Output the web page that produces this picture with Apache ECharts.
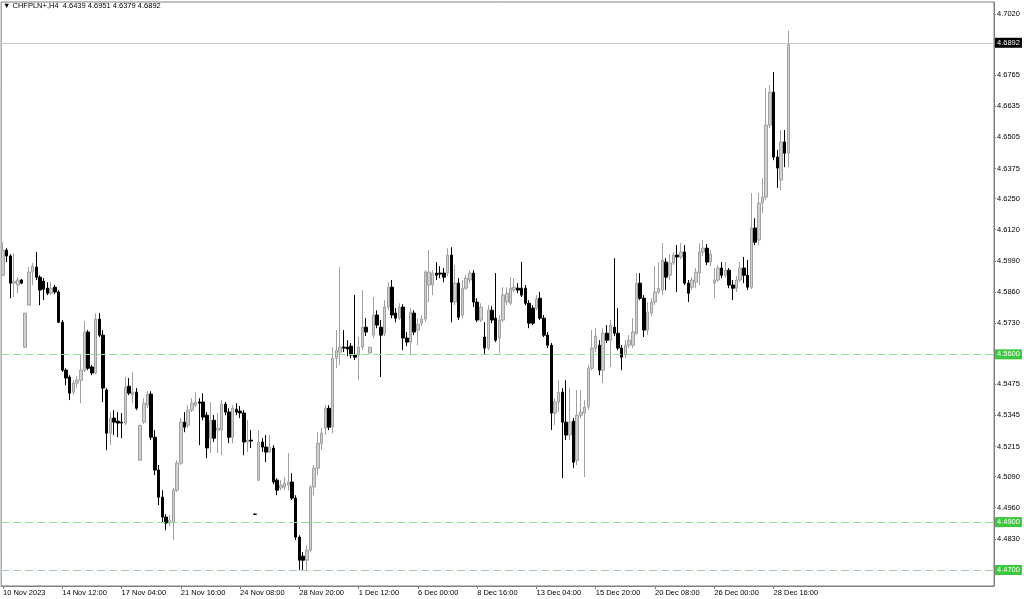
<!DOCTYPE html>
<html><head><meta charset="utf-8">
<script src="https://cdn.jsdelivr.net/npm/echarts@6/dist/echarts.min.js"></script>
<style>html,body{margin:0;padding:0;background:#fff}#c{width:1024px;height:599px}</style>
</head><body><div id="c"></div>
<script>
const symbol = 'CHFPLN+,H4';
const tickLabels = ['10 Nov 2023','14 Nov 12:00','17 Nov 04:00','21 Nov 16:00','24 Nov 08:00','28 Nov 20:00','1 Dec 12:00','6 Dec 00:00','8 Dec 16:00','13 Dec 04:00','15 Dec 20:00','20 Dec 08:00','26 Dec 00:00','28 Dec 16:00'];
const yTickValues = [4.7020,4.6765,4.6635,4.6505,4.6375,4.6250,4.6120,4.5990,4.5860,4.5730,4.5475,4.5345,4.5215,4.5090,4.4960,4.4830];
const currentPrice = 4.6892;
const levelLines = [4.5600, 4.4900, 4.4700];
const closedDays = ['2023-12-24','2023-12-25'];

const opens = [
4.5930,4.6035,4.6010,4.5897,4.5889,4.5910,4.5630,4.5805,4.5943,4.5964,
4.5922,4.5905,4.5876,4.5855,4.5880,4.5860,4.5734,4.5534,4.5505,4.5442,
4.5480,4.5492,4.5534,4.5693,4.5547,4.5522,4.5747,4.5680,4.5451,4.5271,
4.5334,4.5321,4.5317,4.5313,4.5467,4.5430,4.5442,4.5158,4.5317,4.5388,
4.5434,4.5254,4.5117,4.5004,4.4921,4.4896,4.4900,4.5033,4.5146,4.5317,
4.5304,4.5367,4.5388,4.5401,4.5401,4.5346,4.5250,4.5325,4.5284,4.5284,
4.5392,4.5359,4.5254,4.5371,4.5363,4.5355,4.5234,4.5242,4.4933,4.5075,
4.5234,4.5213,4.5192,4.5209,4.5075,4.5042,4.5046,4.5054,4.5067,4.5000,
4.4837,4.4758,4.4741,4.4783,4.5046,4.5125,4.5229,4.5292,4.5375,4.5296,
4.5584,4.5609,4.5630,4.5630,4.5634,4.5597,4.5597,4.5630,4.5713,4.5605,
4.5680,4.5764,4.5713,4.5688,4.5797,4.5880,4.5772,4.5751,4.5797,4.5668,
4.5651,4.5772,4.5701,4.5730,4.5747,4.5889,4.5889,4.5939,4.5939,4.5939,
4.5939,4.6014,4.5818,4.5897,4.5764,4.5876,4.5910,4.5939,4.5818,4.5743,
4.5672,4.5626,4.5784,4.5751,4.5668,4.5743,4.5818,4.5813,4.5868,4.5876,
4.5876,4.5876,4.5813,4.5793,4.5793,4.5834,4.5751,4.5680,4.5638,4.5355,
4.5401,4.5442,4.5317,4.5263,4.5321,4.5158,4.5346,4.5355,4.5380,4.5542,
4.5626,4.5638,4.5534,4.5688,4.5659,4.5713,4.5688,4.5626,4.5597,4.5638,
4.5638,4.5688,4.5897,4.5834,4.5701,4.5772,4.5818,4.5860,4.5868,4.5985,
4.5930,4.5981,4.6014,4.6006,4.6027,4.5897,4.5880,4.5901,4.5939,4.6027,
4.6043,4.5985,4.5897,4.5910,4.5960,4.5930,4.5951,4.5889,4.5876,4.5910,
4.5960,4.5930,4.5880,4.6127,4.6077,4.6231,4.6256,4.6556,4.6694,4.6423,
4.6327,4.6486,4.6439];

const closes = [
4.6035,4.6010,4.5897,4.5905,4.5910,4.5897,4.5772,4.5943,4.5968,4.5922,
4.5868,4.5872,4.5855,4.5876,4.5860,4.5734,4.5534,4.5501,4.5438,4.5480,
4.5492,4.5534,4.5693,4.5542,4.5522,4.5747,4.5680,4.5459,4.5271,4.5334,
4.5317,4.5313,4.5313,4.5463,4.5438,4.5442,4.5375,4.5304,4.5396,4.5434,
4.5254,4.5117,4.5004,4.4921,4.4896,4.4908,4.5033,4.5146,4.5317,4.5296,
4.5367,4.5396,4.5401,4.5396,4.5338,4.5209,4.5325,4.5250,4.5292,4.5392,
4.5359,4.5254,4.5375,4.5359,4.5355,4.5234,4.5242,4.5238,4.4932,4.5234,
4.5213,4.5192,4.5213,4.5067,4.5033,4.5054,4.5062,4.5067,4.5000,4.4837,
4.4741,4.4741,4.4783,4.5046,4.5125,4.5229,4.5271,4.5375,4.5296,4.5584,
4.5617,4.5630,4.5626,4.5622,4.5597,4.5588,4.5630,4.5713,4.5693,4.5630,
4.5764,4.5722,4.5680,4.5797,4.5880,4.5764,4.5751,4.5797,4.5668,4.5651,
4.5776,4.5693,4.5726,4.5747,4.5943,4.5943,4.5939,4.5930,4.5935,4.5922,
4.6014,4.5818,4.5897,4.5755,4.5876,4.5918,4.5939,4.5818,4.5743,4.5797,
4.5626,4.5784,4.5743,4.5659,4.5743,4.5847,4.5855,4.5876,4.5880,4.5868,
4.5847,4.5813,4.5730,4.5730,4.5830,4.5751,4.5680,4.5638,4.5355,4.5401,
4.5442,4.5317,4.5263,4.5317,4.5150,4.5346,4.5359,4.5380,4.5542,4.5626,
4.5676,4.5534,4.5688,4.5659,4.5722,4.5688,4.5626,4.5588,4.5638,4.5659,
4.5693,4.5897,4.5834,4.5701,4.5776,4.5818,4.5860,4.5876,4.5993,4.5922,
4.5981,4.6014,4.6006,4.6027,4.5897,4.5855,4.5910,4.5943,4.6027,4.6043,
4.5985,4.6018,4.5910,4.5960,4.5930,4.5951,4.5889,4.5876,4.5910,4.5960,
4.5930,4.5880,4.6127,4.6068,4.6231,4.6256,4.6556,4.6694,4.6423,4.6377,
4.6486,4.6439,4.6892];

const highs = [
4.6068,4.6043,4.6018,4.6022,4.5922,4.5914,4.5772,4.5964,4.5981,4.6027,
4.5930,4.5918,4.5901,4.5901,4.5889,4.5868,4.5743,4.5542,4.5513,4.5492,
4.5509,4.5597,4.5738,4.5701,4.5555,4.5772,4.5772,4.5701,4.5459,4.5359,
4.5367,4.5359,4.5355,4.5505,4.5501,4.5526,4.5459,4.5304,4.5417,4.5446,
4.5446,4.5284,4.5138,4.5033,4.4933,4.4929,4.5042,4.5158,4.5334,4.5359,
4.5388,4.5417,4.5442,4.5417,4.5438,4.5359,4.5401,4.5346,4.5355,4.5409,
4.5401,4.5375,4.5388,4.5396,4.5384,4.5367,4.5325,4.5284,4.4937,4.5284,
4.5250,4.5263,4.5263,4.5221,4.5083,4.5075,4.5088,4.5188,4.5104,4.5012,
4.4845,4.4775,4.4804,4.5054,4.5138,4.5275,4.5292,4.5388,4.5388,4.5630,
4.5701,4.5964,4.5701,4.5659,4.5647,4.5847,4.5672,4.5868,4.5751,4.5630,
4.5839,4.5784,4.5743,4.5826,4.5901,4.5910,4.5793,4.5813,4.5809,4.5693,
4.5793,4.5784,4.5751,4.5764,4.5951,4.6035,4.5951,4.5985,4.5968,4.5960,
4.6043,4.6047,4.5972,4.5918,4.5910,4.5930,4.5951,4.5951,4.5834,4.5813,
4.5734,4.5805,4.5801,4.5939,4.5764,4.5880,4.5880,4.5922,4.5918,4.5897,
4.5985,4.5889,4.5826,4.5805,4.5847,4.5860,4.5764,4.5693,4.5647,4.5417,
4.5492,4.5459,4.5492,4.5459,4.5334,4.5451,4.5451,4.5409,4.5555,4.5701,
4.5709,4.5659,4.5709,4.5722,4.5743,4.6001,4.5793,4.5638,4.5659,4.5680,
4.5751,4.5939,4.5939,4.5847,4.5818,4.5834,4.5968,4.5985,4.6064,4.6001,
4.6018,4.6027,4.6056,4.6064,4.6056,4.5910,4.5922,4.5960,4.6064,4.6077,
4.6060,4.6035,4.5960,4.5972,4.5985,4.5985,4.5960,4.5910,4.5926,4.5985,
4.6006,4.5993,4.6273,4.6168,4.6273,4.6335,4.6711,4.6723,4.6778,4.6452,
4.6536,4.6536,4.6951];

const lows = [
4.5926,4.5985,4.5834,4.5839,4.5855,4.5893,4.5626,4.5805,4.5889,4.5910,
4.5805,4.5826,4.5847,4.5847,4.5851,4.5730,4.5526,4.5471,4.5409,4.5430,
4.5459,4.5396,4.5526,4.5534,4.5513,4.5517,4.5672,4.5401,4.5200,4.5221,
4.5263,4.5254,4.5250,4.5304,4.5430,4.5396,4.5367,4.5158,4.5309,4.5375,
4.5242,4.5096,4.4971,4.4900,4.4866,4.4883,4.4825,4.5025,4.5138,4.5275,
4.5292,4.5359,4.5380,4.5221,4.5325,4.5167,4.5188,4.5234,4.5188,4.5179,
4.5346,4.5229,4.5229,4.5346,4.5334,4.5179,4.5192,4.5209,4.4929,4.5071,
4.5192,4.5150,4.5188,4.5058,4.5012,4.5033,4.5033,4.5033,4.4992,4.4825,
4.4699,4.4699,4.4699,4.4775,4.5012,4.5096,4.5200,4.5263,4.5284,4.5271,
4.5542,4.5555,4.5609,4.5592,4.5584,4.5576,4.5492,4.5617,4.5676,4.5605,
4.5668,4.5709,4.5505,4.5676,4.5784,4.5751,4.5734,4.5743,4.5617,4.5634,
4.5597,4.5680,4.5638,4.5718,4.5734,4.5818,4.5847,4.5910,4.5918,4.5901,
4.5926,4.5734,4.5805,4.5743,4.5751,4.5868,4.5897,4.5797,4.5734,4.5734,
4.5597,4.5617,4.5730,4.5651,4.5605,4.5734,4.5805,4.5805,4.5860,4.5855,
4.5839,4.5805,4.5709,4.5722,4.5784,4.5743,4.5672,4.5626,4.5284,4.5304,
4.5359,4.5083,4.5242,4.5242,4.5125,4.5138,4.5334,4.5088,4.5367,4.5534,
4.5609,4.5513,4.5480,4.5647,4.5547,4.5676,4.5617,4.5534,4.5584,4.5626,
4.5626,4.5680,4.5826,4.5672,4.5680,4.5759,4.5805,4.5851,4.5847,4.5868,
4.5910,4.5972,4.5860,4.5997,4.5889,4.5818,4.5868,4.5876,4.5889,4.6010,
4.5972,4.5968,4.5834,4.5901,4.5918,4.5918,4.5876,4.5826,4.5860,4.5901,
4.5897,4.5868,4.5872,4.6056,4.6056,4.6189,4.6243,4.6544,4.6410,4.6294,
4.6285,4.6381,4.6379];

// H4 bar times (weekdays plus the Sunday 20:00 bar), plus empty future slots to the right edge
const monthNames = ['Jan','Feb','Mar','Apr','May','Jun','Jul','Aug','Sep','Oct','Nov','Dec'];
function buildCategories(count) {
  const out = [];
  let t = Date.UTC(2023, 10, 10, 0);
  while (out.length < count) {
    const d = new Date(t);
    const wd = d.getUTCDay(), h = d.getUTCHours();
    const key = d.toISOString().slice(0, 10);
    const open = (wd >= 1 && wd <= 5) || (wd === 0 && h === 20);
    if (open && closedDays.indexOf(key) < 0) {
      out.push(d.getUTCDate() + ' ' + monthNames[d.getUTCMonth()] + ' ' + String(h).padStart(2, '0') + ':00');
    }
    t += 4 * 3600 * 1000;
  }
  return out;
}
const totalSlots = 268;
const categories = buildCategories(totalSlots);
const tickEvery = 16;

const candleData = opens.map((o, i) => [o, closes[i], lows[i], highs[i]]);
const last = opens.length - 1;
const FONT = 'Liberation Sans';
const FS = 7.5;

const chart = echarts.init(document.getElementById('c'), null, {renderer: 'canvas'});
const isTick = (idx) => idx % tickEvery === 0 && idx / tickEvery < tickLabels.length;

const levelMarks = levelLines.map((v, k) => ({
  yAxis: v,
  lineStyle: {color: k === levelLines.length - 1 ? '#a8cca8' : '#8fe08f', type: [8, 4], width: 1},
  label: {show: true, position: 'end', distance: 1, formatter: v.toFixed(4),
    color: '#ffffff', backgroundColor: '#3cc83c', padding: [1, 2, 1, 2], fontSize: FS, fontFamily: FONT}
}));

chart.setOption({
  animation: false,
  backgroundColor: '#ffffff',
  title: {
    text: '\u25BC ' + symbol + '  ' + opens[last].toFixed(4) + ' ' + highs[last].toFixed(4) + ' ' + lows[last].toFixed(4) + ' ' + closes[last].toFixed(4),
    left: 3, top: 2, padding: 0,
    textStyle: {fontSize: FS, fontWeight: 'normal', color: '#000', fontFamily: FONT}
  },
  grid: {left: 0, right: 30, top: 2, bottom: 13, show: true, borderColor: '#808080', borderWidth: 1, containLabel: false},
  xAxis: {
    type: 'category', data: categories, boundaryGap: true,
    axisLine: {show: true, lineStyle: {color: '#808080'}},
    axisTick: {show: true, alignWithLabel: true, length: 3, interval: (idx) => isTick(idx), lineStyle: {color: '#808080'}},
    axisLabel: {show: true, interval: (idx) => isTick(idx), align: 'left', margin: 3,
      formatter: (val, idx) => tickLabels[Math.round(idx / tickEvery)],
      fontSize: FS, color: '#000', fontFamily: FONT},
    splitLine: {show: false}
  },
  yAxis: {
    type: 'value', position: 'right', min: 4.46333, max: 4.70701, scale: true,
    axisLine: {show: true, lineStyle: {color: '#808080'}},
    axisTick: {show: true, length: 2, customValues: yTickValues, lineStyle: {color: '#808080'}},
    axisLabel: {show: true, margin: 3, customValues: yTickValues, formatter: (v) => v.toFixed(4),
      fontSize: FS, color: '#000', fontFamily: FONT},
    splitLine: {show: false}
  },
  series: [{
    type: 'candlestick',
    data: candleData,
    barWidth: 3,
    itemStyle: {color: '#d0d0d0', color0: '#000000', borderColor: '#a0a0a0', borderColor0: '#000000', borderWidth: 1},
    markLine: {
      silent: true, symbol: 'none', animation: false,
      data: [{
        yAxis: currentPrice,
        lineStyle: {color: '#c8c8c8', type: 'solid', width: 1},
        label: {show: true, position: 'end', distance: 1, formatter: currentPrice.toFixed(4),
          color: '#ffffff', backgroundColor: '#000000', padding: [1, 2, 1, 2], fontSize: FS, fontFamily: FONT}
      }].concat(levelMarks)
    }
  }]
});
</script>
</body></html>
